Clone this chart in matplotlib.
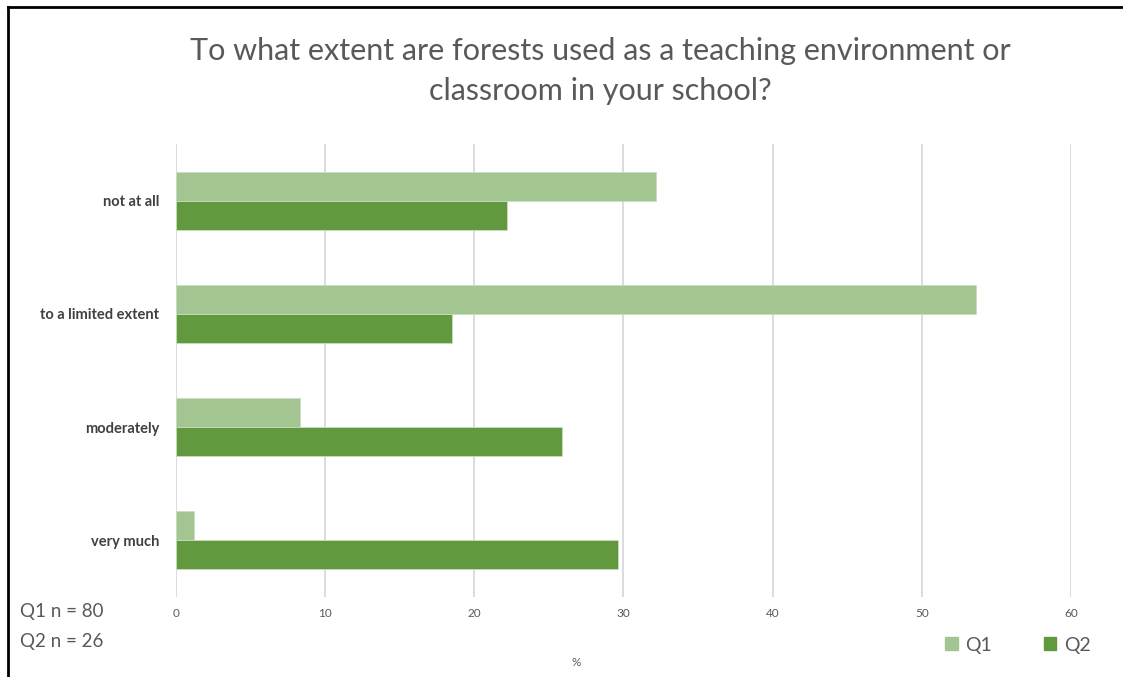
import matplotlib
matplotlib.use("Agg")
import matplotlib.pyplot as plt
import numpy as np
from matplotlib.lines import Line2D
from matplotlib.patches import Patch

plt.rcParams['font.family'] = ['Lato', 'DejaVu Sans']

categories = ["not at all", "to a limited extent", "moderately", "very much"]
q1_values = [32.2, 53.6, 8.3, 1.2]
q2_values = [22.2, 18.5, 25.9, 29.6]
series_names = ["Q1", "Q2"]
x_ticks = [0, 10, 20, 30, 40, 50, 60]
sample_notes = ["Q1 n = 80", "Q2 n = 26"]

c_q1 = "#a2c591"
c_q2 = "#62993e"
grey = "#595959"

fig = plt.figure(figsize=(11.23, 6.77), dpi=100)
ax = fig.add_axes([0.1567, 0.1182, 0.797, 0.6691])

y = np.arange(len(categories))
h = 0.257
ax.barh(y - h / 2, q1_values, height=h, color=c_q1, edgecolor="#c9dfc0", linewidth=0.6, zorder=3)
ax.barh(y + h / 2, q2_values, height=h, color=c_q2, edgecolor="#c9dfc0", linewidth=0.6, zorder=3)

ax.set_xlim(0, 60)
ax.set_ylim(len(categories) - 0.5, -0.5)
ax.set_xticks(x_ticks)
ax.set_xticklabels([str(t) for t in x_ticks], fontsize=8.5, color=grey)
ax.set_yticks(y)
ax.set_yticklabels(categories, fontsize=10.5, color="#404040", fontweight="bold")
ax.tick_params(axis="both", length=0)
ax.tick_params(axis="x", pad=8)
ax.tick_params(axis="y", pad=12)
ax.grid(axis="x", color="#d9d9d9", linewidth=1.3, zorder=0)
for s in ax.spines.values():
    s.set_visible(False)

fig.text(0.535, 1 - 71 / 677, "To what extent are forests used as a teaching environment or\nclassroom in your school?",
         ha="center", va="center", fontsize=22, color=grey, linespacing=1.5)

fig.text(576 / 1123, 1 - 662 / 677, "%", ha="center", va="center", fontsize=8.5, color=grey)

for i, note in enumerate(sample_notes):
    fig.text(20 / 1123, 1 - (612 + 29 * i) / 677, note, ha="left", va="center", fontsize=13.5, color=grey)

handles = [Patch(color=c_q1), Patch(color=c_q2)]
fig.legend(handles, series_names, loc="center", bbox_to_anchor=(1018 / 1123, 1 - 645 / 677),
           ncol=2, frameon=False, fontsize=14, labelcolor=grey, handlelength=0.65, handleheight=0.65,
           handletextpad=0.4, columnspacing=2.65)

# frame lines of the screenshot
fig.add_artist(Line2D([8 / 1123, 1], [1 - 7 / 677, 1 - 7 / 677], color="black", linewidth=2))
fig.add_artist(Line2D([8 / 1123, 8 / 1123], [0, 1 - 7 / 677], color="black", linewidth=2))

fig.savefig("out.png", dpi=100)
